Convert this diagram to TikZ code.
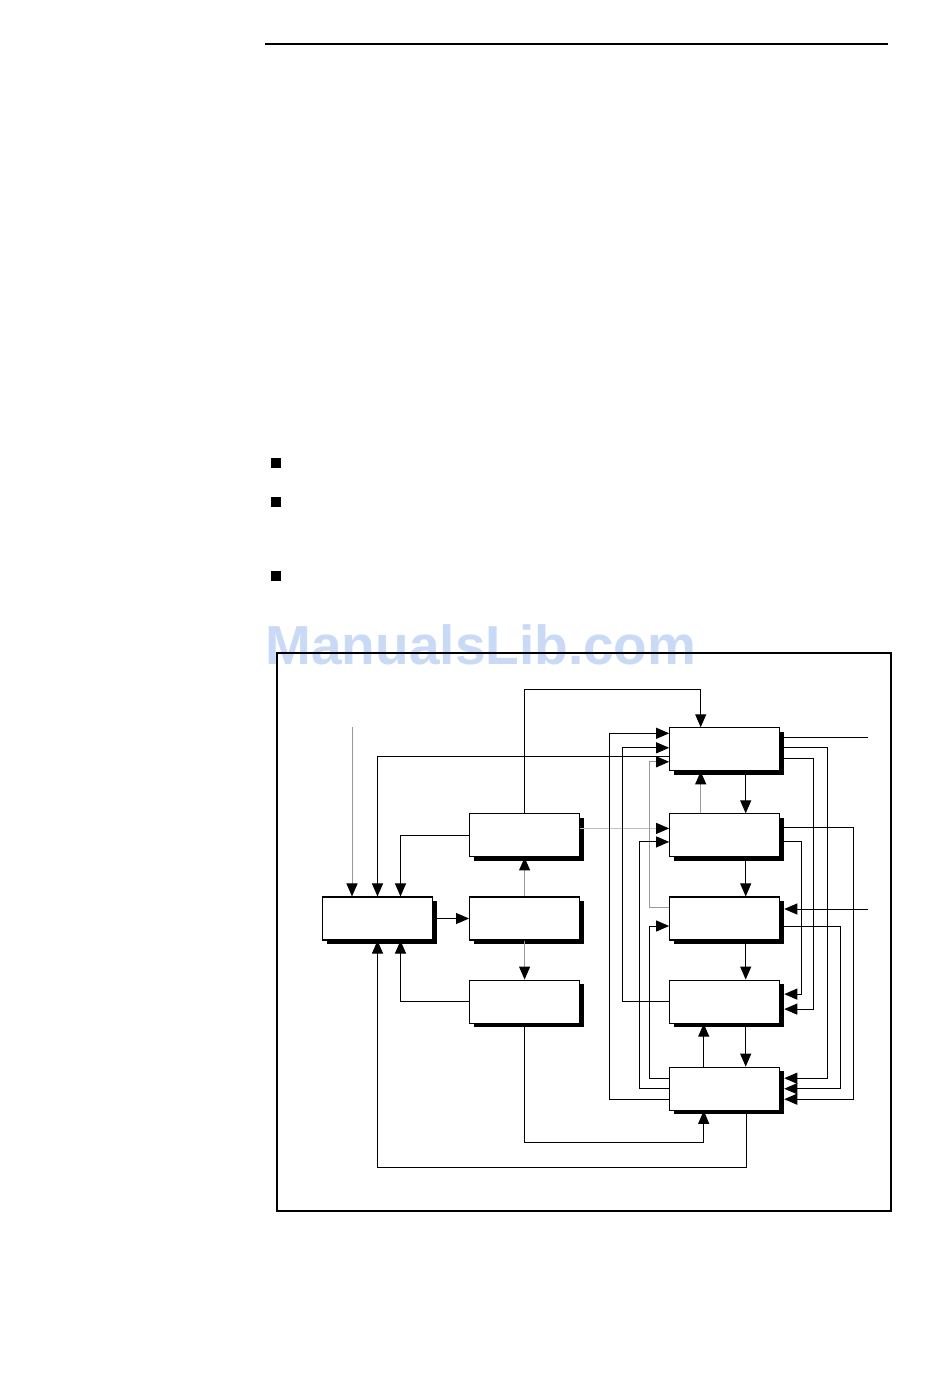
\documentclass[tikz,border=0pt]{standalone}
\usepackage{fontspec}
\newfontfamily\wmfont{Liberation Sans}
\usetikzlibrary{arrows.meta, positioning, shadows}
\definecolor{wmblue}{RGB}{200,218,245}

\begin{document}
\begin{tikzpicture}[
    x=1pt, y=-1pt,
    block/.style={rectangle, draw, line width=1.1pt, fill=white, minimum width=110pt, minimum height=43pt, inner sep=0pt,
        drop shadow={shadow xshift=4pt, shadow yshift=-4pt, opacity=1, fill=black}},
    arrow/.style={-{Triangle[length=13pt, width=11pt]}, line width=1pt},
    greyarrow/.style={-{Triangle[length=13pt, width=11pt, color=black]}, line width=1pt, draw=black!40},
    wire/.style={line width=1pt},
    bullet/.style={rectangle, fill=black, minimum size=10pt, inner sep=0pt}
]
    \useasboundingbox (0,0) rectangle (950,1398);

    % Page
    \coordinate (ruleL) at (265,44);
    \coordinate (ruleR) at (888,44);
    \draw[line width=1.6pt] (ruleL) -- (ruleR);
    \node[bullet] (b1) at (276,463) {};
    \node[bullet] (b2) at (276,502) {};
    \node[bullet] (b3) at (276,576) {};
    \node[text=wmblue, font=\wmfont\bfseries\fontsize{55}{55}\selectfont] (wm) at (481,645) {ManualsLib.com};
    \node[draw, line width=1.5pt, minimum width=614pt, minimum height=558pt, inner sep=0pt] (frame) at (584,932) {};

    % Nodes
    \node[block] (L) at (377.5,918.5) {};
    \node[block, right=36pt of L] (M2) {};
    \node[block, above=39pt of M2] (M1) {};
    \node[block, below=39pt of M2] (M3) {};
    \node[block, right=89pt of M2] (R3) {};
    \node[block, above=39pt of R3] (R2) {};
    \node[block, above=42pt of R2] (R1) {};
    \node[block, below=39pt of R3] (R4) {};
    \node[block, below=43pt of R4] (R5) {};

    % Free ends
    \coordinate (inL) at (352,727);
    \coordinate[xshift=88pt, yshift=11.5pt] (outR1) at (R1.east);
    \coordinate[xshift=88pt, yshift=9.5pt] (inR3) at (R3.east);

    % Left part
    \draw[greyarrow] (inL) -- (inL |- L.north);
    \draw[arrow] ([yshift=-7.5pt]R1.west) -| (L.north);
    \draw[arrow] (M1.west) -| ([xshift=23pt]L.north);
    \draw[arrow] (L.east) -- (M2.west);
    \draw[greyarrow] (M2.north) -- (M1.south);
    \draw[greyarrow] (M2.south) -- (M3.north);
    \draw[arrow] (M3.west) -| ([xshift=23pt]L.south);
    \draw[arrow] ([xshift=22pt]R5.south) -- ++(0,57) -| (L.south);
    \draw[arrow] (M1.north) -- ++(0,-124) -| ([xshift=-24pt]R1.north);
    \draw[greyarrow, draw=black!25] ([yshift=7pt]M1.east) -- ([yshift=7pt]R2.west);
    \draw[arrow] (M3.south) -- ++(0,119) -| ([xshift=-21pt]R5.south);

    % Right column
    \draw[arrow] ([xshift=21pt]R1.south) -- ([xshift=21pt]R2.north);
    \draw[arrow] ([xshift=21pt]R2.south) -- ([xshift=21pt]R3.north);
    \draw[arrow] ([xshift=21pt]R3.south) -- ([xshift=21pt]R4.north);
    \draw[arrow] ([xshift=21pt]R4.south) -- ([xshift=21pt]R5.north);
    \draw[greyarrow] ([xshift=-24pt]R2.north) -- ([xshift=-24pt]R1.south);
    \draw[arrow] ([xshift=-21pt]R5.north) -- ([xshift=-21pt]R4.south);

    % Feedback on the left
    \draw[arrow] ([yshift=-10.5pt]R5.west) -- ++(-60,0) |- ([yshift=16pt]R1.west);
    \draw[arrow] (R4.west) -- ++(-46.5,0) |- ([yshift=1.5pt]R1.west);
    \draw[greyarrow] ([yshift=11.5pt]R3.west) -- ++(-19.5,0) |- ([yshift=-12.5pt]R1.west);
    \draw[arrow] ([yshift=10.5pt]R5.west) -- ++(-19.5,0) |- ([yshift=-7.5pt]R3.west);
    \draw[arrow] (R5.west) -- ++(-29.5,0) |- ([yshift=-6.5pt]R2.west);

    % Feedback on the right
    \draw[wire] ([yshift=11.5pt]R1.east) -- (outR1);
    \draw[arrow] ([yshift=1.5pt]R1.east) -- ++(47.5,0) |- ([xshift=4pt, yshift=10.5pt]R5.east);
    \draw[arrow] ([yshift=-9.5pt]R1.east) -- ++(33.5,0) |- ([xshift=4pt, yshift=-7.5pt]R4.east);
    \draw[arrow] ([yshift=7.5pt]R2.east) -- ++(73.5,0) |- ([xshift=4pt, yshift=-10.5pt]R5.east);
    \draw[arrow] ([yshift=-6.5pt]R2.east) -- ++(21.5,0) |- ([xshift=4pt, yshift=7.5pt]R4.east);
    \draw[arrow] (inR3) -- ([xshift=4pt]inR3 -| R3.east);
    \draw[arrow] ([yshift=-7.5pt]R3.east) -- ++(60.5,0) |- ([xshift=4pt]R5.east);
\end{tikzpicture}
\end{document}
